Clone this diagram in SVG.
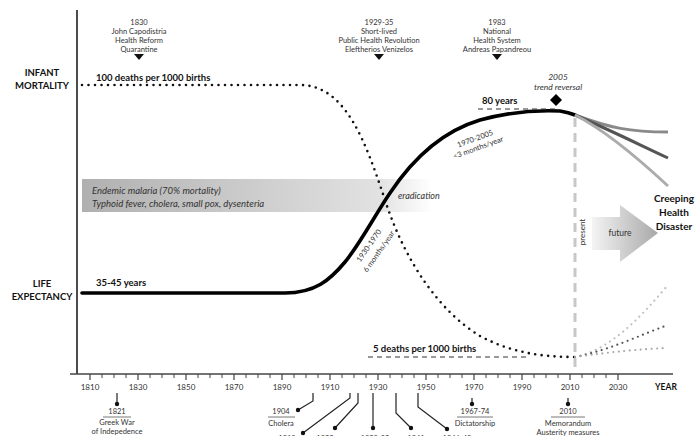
<svg xmlns="http://www.w3.org/2000/svg" width="698" height="436" viewBox="0 0 698 436">
<defs>
<style>
text{font-family:Lato,"Liberation Sans",sans-serif;fill:#222}
.ax{font-size:9.5px;font-weight:bold;text-anchor:middle;fill:#111}
.ann{font-size:7.5px;text-anchor:middle;fill:#333}
.tick{font-size:8px;text-anchor:middle;fill:#333}
.bold{font-size:9.5px;font-weight:bold;fill:#111}
.it{font-size:9.5px;font-style:italic;fill:#333}
.sm{font-size:7.5px;fill:#333;text-anchor:middle}
.evt{font-size:7.5px;text-anchor:middle;fill:#333}
.lead{fill:none;stroke:#222;stroke-width:1.2}
.dot{fill:#111}
.tri{fill:#111}
</style>
<linearGradient id="band" x1="0" y1="0" x2="1" y2="0">
<stop offset="0" stop-color="#b0b0b0"/>
<stop offset="0.85" stop-color="#e2e2e2"/>
<stop offset="1" stop-color="#ffffff"/>
</linearGradient>
<linearGradient id="arr" x1="0" y1="0" x2="1" y2="0">
<stop offset="0" stop-color="#f4f4f4"/>
<stop offset="1" stop-color="#a8a8a8"/>
</linearGradient>
</defs>
<rect width="698" height="436" fill="#fff"/>

<g id="band-malaria">
<rect x="82" y="179" width="350" height="33" fill="url(#band)"/>
<text class="it" x="92" y="194">Endemic malaria (70% mortality)</text>
<text class="it" x="92" y="207">Typhoid fever, cholera, small pox, dysenteria</text>
</g>

<g id="axes">
<line x1="77" y1="10" x2="77" y2="374" stroke="#111" stroke-width="1.5"/>
<line x1="70" y1="374" x2="673" y2="374" stroke="#444" stroke-width="1.5"/>
<path d="M102,374v4M114,374v4M126,374v4M150,374v4M162,374v4M174,374v4M198,374v4M210,374v4M222,374v4M246,374v4M258,374v4M270,374v4M294,374v4M306,374v4M318,374v4M342,374v4M354,374v4M366,374v4M390,374v4M402,374v4M414,374v4M438,374v4M450,374v4M462,374v4M486,374v4M498,374v4M510,374v4M534,374v4M546,374v4M558,374v4M582,374v4M594,374v4M606,374v4" stroke="#444" stroke-width="1"/>
<path d="M90,374v6M138,374v6M186,374v6M234,374v6M282,374v6M330,374v6M378,374v6M426,374v6M474,374v6M522,374v6M570,374v6M618,374v6" stroke="#444" stroke-width="1.2"/>
<text class="tick" x="90" y="390">1810</text>
<text class="tick" x="138" y="390">1830</text>
<text class="tick" x="186" y="390">1850</text>
<text class="tick" x="234" y="390">1870</text>
<text class="tick" x="282" y="390">1890</text>
<text class="tick" x="330" y="390">1910</text>
<text class="tick" x="378" y="390">1930</text>
<text class="tick" x="426" y="390">1950</text>
<text class="tick" x="474" y="390">1970</text>
<text class="tick" x="522" y="390">1990</text>
<text class="tick" x="570" y="390">2010</text>
<text class="tick" x="618" y="390">2030</text>
<text class="bold" x="666" y="390" text-anchor="middle" style="font-size:8.5px">YEAR</text>
</g>

<g id="label-infant-mortality">
<text class="ax" x="42" y="76">INFANT</text>
<text class="ax" x="42" y="89">MORTALITY</text>
</g>
<g id="label-life-expectancy">
<text class="ax" x="42" y="287">LIFE</text>
<text class="ax" x="42" y="300">EXPECTANCY</text>
</g>

<g id="event-1830">
<text class="ann" x="139" y="25">1830</text>
<text class="ann" x="139" y="34">John Capodistria</text>
<text class="ann" x="139" y="43">Health Reform</text>
<text class="ann" x="139" y="52">Quarantine</text>
<path class="tri" d="M134,54h10l-5,6z"/>
</g>
<g id="event-1929">
<text class="ann" x="379" y="25">1929-35</text>
<text class="ann" x="379" y="34">Short-lived</text>
<text class="ann" x="379" y="43">Public Health Revolution</text>
<text class="ann" x="379" y="52">Eleftherios Venizelos</text>
<path class="tri" d="M374,54h10l-5,6z"/>
</g>
<g id="event-1983">
<text class="ann" x="497" y="25">1983</text>
<text class="ann" x="497" y="34">National</text>
<text class="ann" x="497" y="43">Health System</text>
<text class="ann" x="497" y="52">Andreas Papandreou</text>
<path class="tri" d="M492,54h10l-5,6z"/>
</g>

<g id="infant-mortality-curve">
<path d="M82,85 L300,85 C345,85 365,140 385,200 C405,262 440,312 480,336 C510,352 540,357 575,357" fill="none" stroke="#111" stroke-width="2.6" stroke-linecap="round" stroke-dasharray="0 6.5"/>
<text class="bold" x="96" y="81">100 deaths per 1000 births</text>
<line x1="368" y1="357" x2="530" y2="357" stroke="#333" stroke-width="1.2" stroke-dasharray="5 4"/>
<text class="bold" x="373" y="352">5 deaths per 1000 births</text>
</g>

<g id="life-expectancy-curve">
<path d="M82,293 L285,293 C315,293 330,280 345,262 C360,244 375,215 390,193 C410,163 440,132 480,120 C510,112 540,110 560,111 C566,112 570,113 575,115" fill="none" stroke="#000" stroke-width="3.6" stroke-linecap="round"/>
<text class="bold" x="96" y="286">35-45 years</text>
<line x1="478" y1="109" x2="558" y2="109" stroke="#333" stroke-width="1.2" stroke-dasharray="5 4"/>
<text class="bold" x="482" y="104">80 years</text>
<text class="sm" transform="translate(371,247) rotate(-55)">1930-1970</text>
<text class="sm" transform="translate(381,253) rotate(-55)">6 months/year</text>
<text class="sm" transform="translate(476,141) rotate(-20)">1970-2005</text>
<text class="sm" transform="translate(479,150) rotate(-20)">&lt;3 months/year</text>
<text class="it" x="398" y="199" style="font-size:9px">eradication</text>
</g>

<g id="trend-reversal">
<path d="M556,94 l6,6 l-6,6 l-6,-6z" fill="#000"/>
<text class="it" x="558" y="80" text-anchor="middle" style="font-size:8.5px">2005</text>
<text class="it" x="558" y="90" text-anchor="middle" style="font-size:8.5px">trend reversal</text>
</g>

<g id="present">
<line x1="575" y1="118" x2="575" y2="371" stroke="#c8c8c8" stroke-width="3" stroke-dasharray="9 6"/>
<text class="sm" transform="translate(585,232) rotate(-90)" style="font-size:8px">present</text>
</g>

<g id="future-projections">
<path d="M575,115 C610,128 630,132 668,132" fill="none" stroke="#8a8a8a" stroke-width="3"/>
<path d="M575,115 C610,130 640,145 668,158" fill="none" stroke="#555" stroke-width="3"/>
<path d="M575,115 C605,130 640,160 668,186" fill="none" stroke="#acacac" stroke-width="3"/>
<path d="M575,357 C610,350 640,318 668,285" fill="none" stroke="#bdbdbd" stroke-width="2.2" stroke-linecap="round" stroke-dasharray="0 5.5"/>
<path d="M575,357 C610,350 640,335 668,325" fill="none" stroke="#555" stroke-width="2.2" stroke-linecap="round" stroke-dasharray="0 5.5"/>
<path d="M575,357 C610,352 640,349 668,348" fill="none" stroke="#aaa" stroke-width="2.2" stroke-linecap="round" stroke-dasharray="0 5.5"/>
</g>

<g id="future-arrow">
<path d="M592,217 H620 V205 L658,233 L620,262 V250 H592 Z" fill="url(#arr)"/>
<text class="sm" x="620" y="236" style="font-size:8.5px">future</text>
</g>

<g id="creeping-health-disaster">
<text class="ax" x="674" y="202" style="font-size:10px">Creeping</text>
<text class="ax" x="674" y="216" style="font-size:10px">Health</text>
<text class="ax" x="674" y="230" style="font-size:10px">Disaster</text>
</g>

<g id="connectors">
<path class="lead" d="M117,393V403"/>
<path class="lead" d="M313,393V401L298,410"/>
<path class="lead" d="M350,393V398L303,433"/>
<path class="lead" d="M358,393V403L335,428"/>
<path class="lead" d="M373,393V428"/>
<path class="lead" d="M396,393V413L411,428"/>
<path class="lead" d="M418,393V407L447,429"/>
<path class="lead" d="M472,398V404"/>
<path class="lead" d="M568,398V404"/>
</g>

<g id="event-1821">
<circle class="dot" cx="117" cy="404" r="2.2"/>
<text class="evt" x="117" y="414">1821</text>
<line x1="103" y1="417" x2="131" y2="417" stroke="#555" stroke-width="0.8"/>
<text class="evt" x="117" y="425">Greek War</text>
<text class="evt" x="117" y="434">of Indepedence</text>
</g>
<g id="event-1904">
<circle class="dot" cx="298" cy="410" r="2.2"/>
<text class="evt" x="281" y="414">1904</text>
<line x1="268" y1="417" x2="295" y2="417" stroke="#555" stroke-width="0.8"/>
<text class="evt" x="281" y="426">Cholera</text>
</g>
<g id="event-1918">
<circle class="dot" cx="303" cy="433" r="2.2"/>
<text class="evt" x="287" y="441">1918</text>
</g>
<g id="event-1922">
<circle class="dot" cx="335" cy="428" r="2.2"/>
<text class="evt" x="325" y="441">1922</text>
</g>
<g id="event-1928">
<circle class="dot" cx="373" cy="428" r="2.2"/>
<text class="evt" x="375" y="441">1928-32</text>
</g>
<g id="event-1941">
<circle class="dot" cx="411" cy="428" r="2.2"/>
<text class="evt" x="416" y="441">1941</text>
</g>
<g id="event-1946">
<circle class="dot" cx="447" cy="429" r="2.2"/>
<text class="evt" x="457" y="441">1946-49</text>
</g>
<g id="event-1967">
<circle class="dot" cx="472" cy="404" r="2.2"/>
<text class="evt" x="475" y="414">1967-74</text>
<line x1="457" y1="417" x2="493" y2="417" stroke="#555" stroke-width="0.8"/>
<text class="evt" x="475" y="426">Dictatorship</text>
</g>
<g id="event-2010">
<circle class="dot" cx="568" cy="404" r="2.2"/>
<text class="evt" x="568" y="414">2010</text>
<line x1="551" y1="417" x2="585" y2="417" stroke="#555" stroke-width="0.8"/>
<text class="evt" x="568" y="426">Memorandum</text>
<text class="evt" x="568" y="435">Austerity measures</text>
</g>
</svg>
